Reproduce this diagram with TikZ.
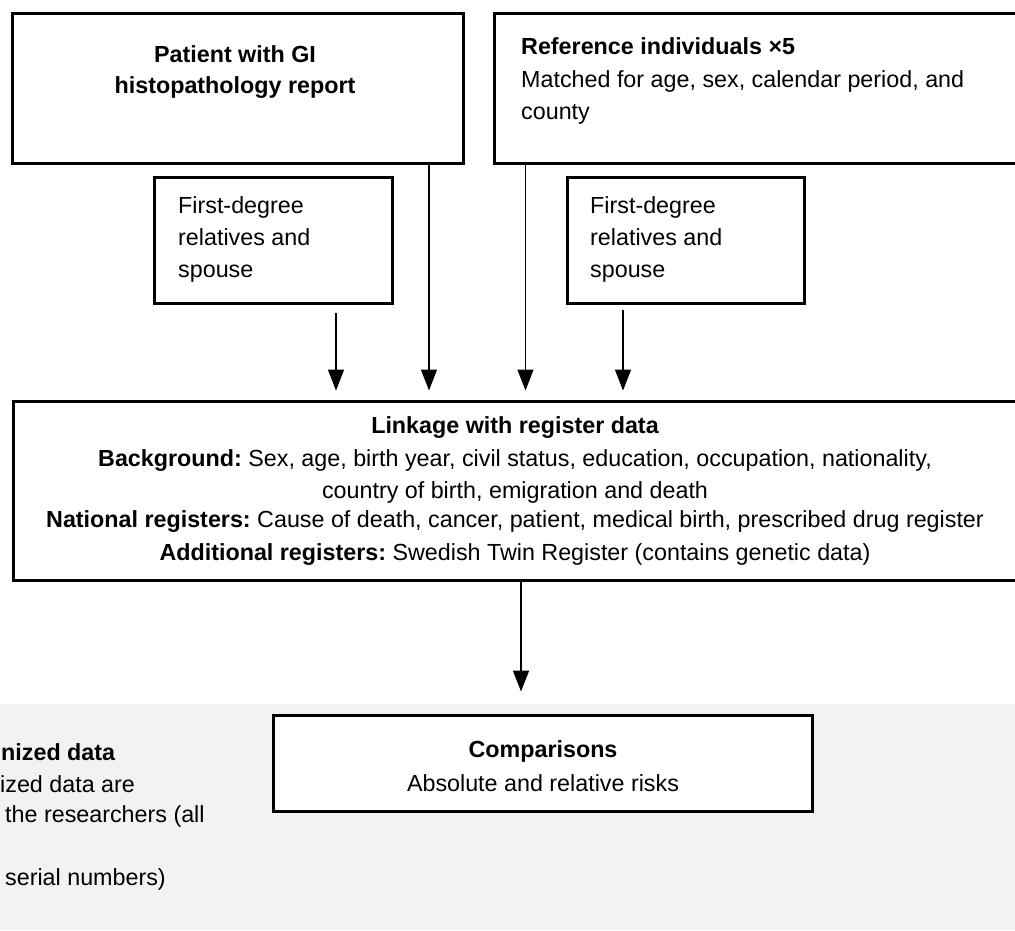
\documentclass[tikz,border=0pt]{standalone}
\usepackage{fontspec}
\setmainfont{Liberation Sans}
\usetikzlibrary{arrows.meta,calc}
\definecolor{graybg}{HTML}{F2F2F2}
\frenchspacing
\begin{document}
\begin{tikzpicture}[x=1pt,y=-1pt,
  box/.style={draw=black,line width=3pt,fill=white,inner sep=0pt},
  txt/.style={inner sep=0pt,anchor=base,font=\fontsize{23.3}{28}\selectfont},
  txtl/.style={txt,anchor=base west},
  arr/.style={line width=1.3pt,-{Triangle[width=16pt,length=21pt]},shorten >=9pt},
  bigarr/.style={line width=2pt,-{Triangle[width=16pt,length=21pt]},shorten >=22pt}]
\useasboundingbox (0,0) rectangle (1015,930);
\clip (0,0) rectangle (1015,930);
\fill[white] (0,0) rectangle (1015,930);
\fill[graybg] (0,704) rectangle (1015,930);

% boxes
\node[box,minimum width=451pt,minimum height=150pt] (patient) at (237.5,88) {};
\node[box,minimum width=536pt,minimum height=150pt] (ref) at (762,88) {};
\node[box,minimum width=238pt,minimum height=126pt] (relL) at (273,240) {};
\node[box,minimum width=237pt,minimum height=126pt] (relR) at (685.5,240) {};
\node[box,minimum width=1017pt,minimum height=179pt] (link) at (521.5,490.5) {};
\node[box,minimum width=539pt,minimum height=96pt] (comp) at (542.5,763) {};

% texts
\node[txt] (tpat1) at (235,62) {\bfseries Patient with GI};
\node[txt] (tpat2) at (235,93) {\bfseries histopathology report};

\node[txtl] (tref1) at (521,54) {\bfseries Reference individuals ×5};
\node[txtl] (tref2) at (521,87) {Matched for age, sex, calendar period, and};
\node[txtl] (tref3) at (521,119) {county};

\node[txtl] (trelL1) at (178,213) {First-degree};
\node[txtl] (trelL2) at (178,245) {relatives and};
\node[txtl] (trelL3) at (178,277) {spouse};

\node[txtl] (trelR1) at (590,213) {First-degree};
\node[txtl] (trelR2) at (590,245) {relatives and};
\node[txtl] (trelR3) at (590,277) {spouse};

\node[txt] (tlink1) at (515,433) {\bfseries Linkage with register data};
\node[txt] (tlink2) at (515,466) {\textbf{Background:} Sex, age, birth year, civil status, education, occupation, nationality,};
\node[txt] (tlink3) at (515,498) {country of birth, emigration and death};
\node[txt] (tlink4) at (515,527) {\textbf{National registers:} Cause of death, cancer, patient, medical birth, prescribed drug register};
\node[txt] (tlink5) at (515,560) {\textbf{Additional registers:} Swedish Twin Register (contains genetic data)};

\node[txt] (tcomp1) at (543,757) {\bfseries Comparisons};
\node[txt] (tcomp2) at (543,791) {Absolute and relative risks};

\node[txtl] (tps1) at (1,760) {\bfseries nized data};
\node[txtl] (tps2) at (0,792) {ized data are};
\node[txtl] (tps3) at (5,822) {the researchers (all};
\node[txtl] (tps4) at (5,885) {serial numbers)};

% connectors
\coordinate (sL) at ($(relL.south)+(63,8)$);
\coordinate (sP) at ($(patient.south)+(191.5,0)$);
\coordinate (sF) at ($(ref.south west)+(33,0)$);
\coordinate (sR) at ($(relR.south)+(-62.5,5)$);
\draw[arr] (sL) -- (sL |- link.north);
\draw[arr] (sP) -- (sP |- link.north);
\draw[arr] (sF) -- (sF |- link.north);
\draw[arr] (sR) -- (sR |- link.north);
\coordinate (sB) at ($(link.south)+(-0.5,0)$);
\draw[bigarr] (sB) -- (sB |- comp.north);
\end{tikzpicture}
\end{document}
